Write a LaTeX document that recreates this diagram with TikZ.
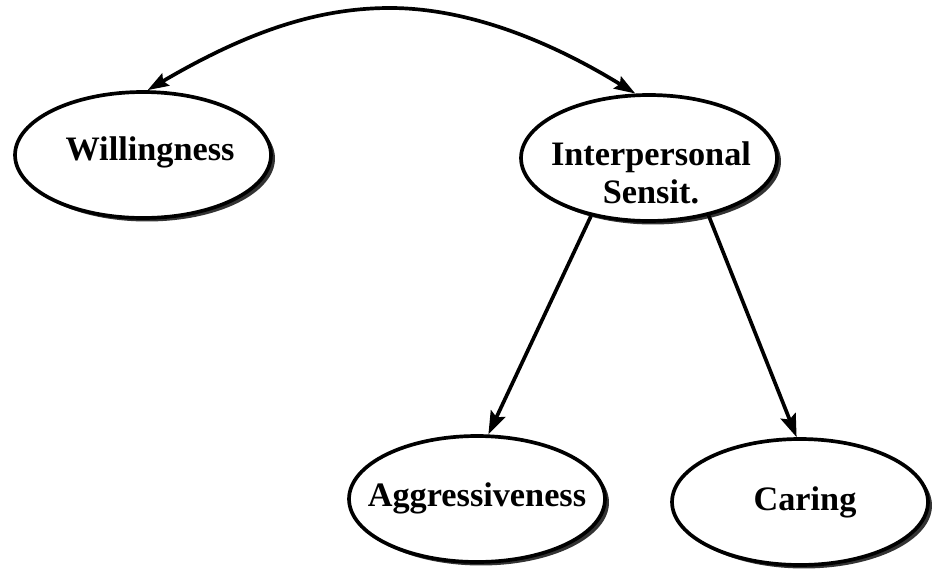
\documentclass[tikz,border=0pt]{standalone}
\usepackage{fontspec}
\setmainfont{Liberation Serif}
\usetikzlibrary{shapes.geometric,shadows,arrows.meta}
\begin{document}
\begin{tikzpicture}[x=0.02cm,y=-0.02cm,
  factor/.style={ellipse, draw=black, line width=2.1pt, fill=white,
    minimum width=5.12cm, minimum height=2.52cm, inner sep=0pt,
    general shadow={fill=black!80, shadow xshift=0.08cm, shadow yshift=-0.07cm}},
  lbl/.style={font=\bfseries\fontsize{19.5}{21.5}\selectfont, align=center, inner sep=0pt},
  tip/.style={Stealth[length=0.46cm,width=0.32cm,inset=0.08cm]},
  link/.style={line width=2.1pt, -{Stealth[length=0.46cm,width=0.32cm,inset=0.08cm]}},
  bilink/.style={line width=2.1pt, {Stealth[length=0.42cm,width=0.28cm,inset=0.06cm]}-{Stealth[length=0.42cm,width=0.28cm,inset=0.06cm]}}]
  \useasboundingbox (0,0) rectangle (933,568);

  % latent factors
  \node[factor] (will)  at (143,155) {};
  \node[factor] (inter) at (649,158) {};
  \node[factor] (aggr)  at (477,499) {};
  \node[factor] (care)  at (800,502) {};

  % factor names
  \node[lbl] (willT)  at (150,152) {Willingness};
  \node[lbl] (interT) at (651,173) {Interpersonal\\Sensit.};
  \node[lbl] (aggrT)  at (477,498) {Aggressiveness};
  \node[lbl] (careT)  at (805,502) {Caring};

  % correlation between the two upper factors
  \draw[bilink] (will.86) .. controls (250,30) and (320,8) .. (390,8)
                          .. controls (460,8) and (540,35) .. (inter.102);

  % paths to the lower factors
  \draw[link] (inter.225) -- (aggr.80);
  \draw[link] (inter.316) -- (care.93);
\end{tikzpicture}
\end{document}
